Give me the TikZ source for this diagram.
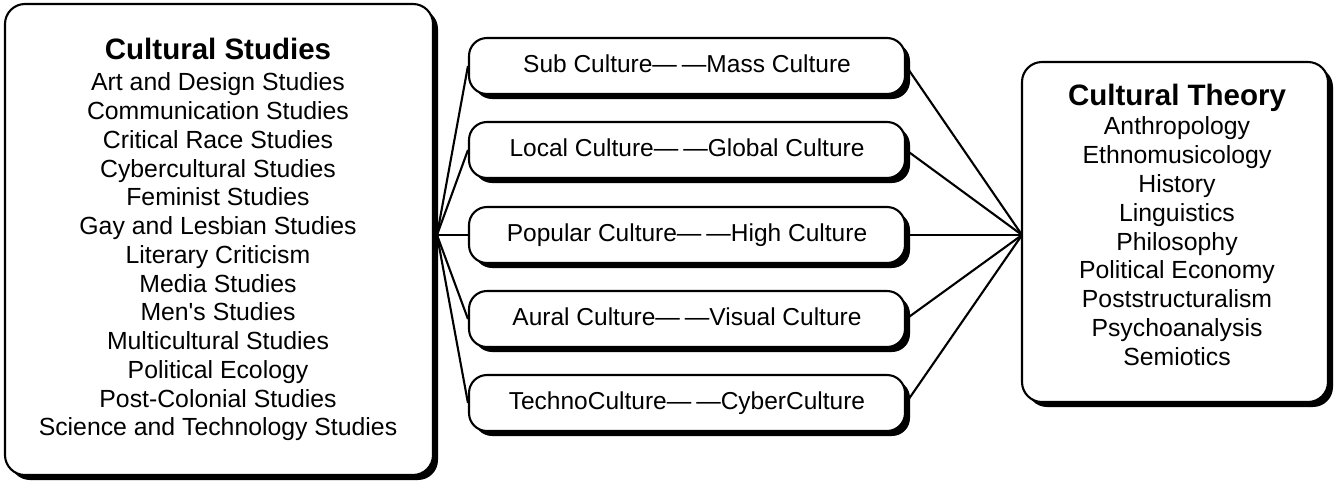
\documentclass[tikz,border=0pt]{standalone}
\usepackage{fontspec}
\setmainfont{Liberation Sans}
\usetikzlibrary{shadows}
\begin{document}
\begin{tikzpicture}[x=1pt,y=-1pt,
  box/.style={draw, line width=2.1pt, fill=white, rounded corners=20pt,
    drop shadow={shadow xshift=5pt, shadow yshift=-5pt, fill=black, opacity=1},
    inner sep=0pt},
  pairbox/.style={box, rounded corners=18pt, minimum width=436pt, minimum height=56pt,
    font=\fontsize{24.5}{29}\selectfont, text height=17.5pt, text depth=5.5pt},
  item/.style={font=\fontsize{24.8}{28}\selectfont, inner sep=0pt, anchor=base},
  head/.style={font=\bfseries\fontsize{29.5}{32}\selectfont, inner sep=0pt, anchor=base},
  conn/.style={line width=2.1pt}
]
\useasboundingbox (0,0) rectangle (1337,485);

% main boxes
\node[box, minimum width=428pt, minimum height=471pt] (L) at (219,239.5) {};
\node[box, minimum width=306pt, minimum height=340pt] (R) at (1175,232) {};

\newcommand{\dd}{—\hspace{5pt}—}
\node[pairbox] (m1) at (687,66) {Sub Culture\dd Mass Culture};
\node[pairbox] (m2) at (687,150) {Local Culture\dd Global Culture};
\node[pairbox] (m3) at (687,235) {Popular Culture\dd High Culture};
\node[pairbox] (m4) at (687,319) {Aural Culture\dd Visual Culture};
\node[pairbox] (m5) at (687,403) {TechnoCulture\dd CyberCulture};

% texts of left box
\node[head] (lt) at (218,59.3) {Cultural Studies};
\foreach [count=\i] \t in {Art and Design Studies, Communication Studies, Critical Race Studies,
  Cybercultural Studies, Feminist Studies, Gay and Lesbian Studies, Literary Criticism,
  Media Studies, Men\textquotesingle s Studies, Multicultural Studies, Political Ecology,
  Post-Colonial Studies, Science and Technology Studies}
  \node[item] (ls\i) at (218,62+\i*28.75) {\t};

% texts of right box
\node[head] (rt) at (1177,105) {Cultural Theory};
\foreach [count=\i] \t in {Anthropology, Ethnomusicology, History, Linguistics, Philosophy,
  Political Economy, Poststructuralism, Psychoanalysis, Semiotics}
  \node[item] (rs\i) at (1177,105.5+\i*28.9) {\t};

% connectors
\coordinate (cl) at (437,235);
\coordinate (cr) at (1022,235);
\foreach \m in {m1,m2,m3,m4,m5}{
  \draw[conn] (cl) -- (\m.west);
  \draw[conn] (\m.east) -- (cr);
}
\end{tikzpicture}
\end{document}
